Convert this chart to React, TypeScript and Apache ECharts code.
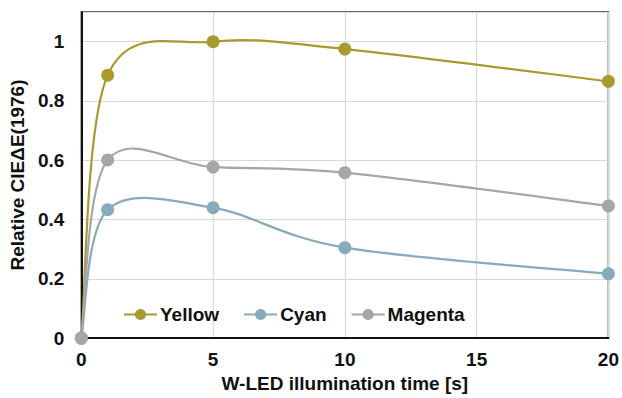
import React, { useEffect, useRef } from "react";
import * as echarts from "echarts";

const times = [0, 1, 5, 10, 20];
const yellow = [0, 0.887, 1.0, 0.975, 0.866];
const cyan = [0, 0.433, 0.44, 0.305, 0.217];
const magenta = [0, 0.601, 0.577, 0.558, 0.446];
const seriesNames = ["Yellow", "Cyan", "Magenta"];
const colors = ["#A99A2E", "#87AABD", "#A6A6A6"];

function curveSeries(vals: number[], color: string, z: number) {
  return {
    type: "custom",
    name: "curve-" + color,
    data: times.map((t, i) => [t, vals[i]]),
    clip: false,
    silent: true,
    z,
    renderItem: (params: any, api: any) => {
      if (params.dataIndex !== 0) return null;
      const p = times.map((t, i) => api.coord([t, vals[i]]));
      const n = p.length;
      let d = `M${p[0][0]},${p[0][1]}`;
      for (let i = 0; i < n - 1; i++) {
        const p0 = p[Math.max(i - 1, 0)];
        const p1 = p[i];
        const p2 = p[i + 1];
        const p3 = p[Math.min(i + 2, n - 1)];
        const c1x = p1[0] + (p2[0] - p0[0]) / 6;
        const c1y = p1[1] + (p2[1] - p0[1]) / 6;
        const c2x = p2[0] - (p3[0] - p1[0]) / 6;
        const c2y = p2[1] - (p3[1] - p1[1]) / 6;
        d += ` C${c1x},${c1y} ${c2x},${c2y} ${p2[0]},${p2[1]}`;
      }
      return {
        type: "path",
        shape: { pathData: d },
        style: { fill: "none", stroke: color, lineWidth: 2.2 },
      };
    },
  };
}

export default function App() {
  const ref = useRef<HTMLDivElement>(null);
  useEffect(() => {
    if (!ref.current) return;
    const chart = echarts.init(ref.current, undefined, { renderer: "svg" });
    const font = "Liberation Sans, Arial, sans-serif";
    const mk = (name: string, vals: number[], color: string, z: number) => ({
      name,
      type: "line",
      data: times.map((t, i) => [t, vals[i]]),
      symbol: "circle",
      symbolSize: 13,
      showSymbol: true,
      clip: false,
      z,
      lineStyle: { color, width: 2, opacity: 0 },
      itemStyle: { color },
    });
    chart.setOption({
      animation: false,
      textStyle: { fontFamily: font },
      grid: {
        left: 80,
        right: 10,
        top: 12,
        bottom: 59,
        show: true,
        borderColor: "#3a3a3a",
        borderWidth: 1.5,
      },
      legend: {
        data: seriesNames,
        left: 118,
        top: 300,
        itemWidth: 33,
        itemHeight: 14,
        itemGap: 24,
        lineStyle: { opacity: 1, width: 2 },
        textStyle: { fontFamily: font, fontWeight: "bold", fontSize: 19, color: "#111", padding: [0, 0, 0, -2] },
      },
      xAxis: {
        type: "value",
        min: 0,
        max: 20,
        interval: 5,
        name: "W-LED illumination time [s]",
        nameLocation: "middle",
        nameGap: 31,
        nameTextStyle: { fontFamily: font, fontWeight: "bold", fontSize: 19, color: "#111", verticalAlign: "top" },
        axisLine: { show: true, lineStyle: { color: "#111", width: 2 } },
        axisTick: { show: false },
        axisLabel: { fontFamily: font, fontWeight: "bold", fontSize: 19, color: "#111", margin: 12 },
        splitLine: { show: true, lineStyle: { color: "#d9d9d9", width: 1.2 } },
      },
      yAxis: {
        type: "value",
        min: 0,
        max: 1.1,
        interval: 0.2,
        name: "Relative CIEΔE(1976)",
        nameLocation: "middle",
        nameGap: 45,
        nameTextStyle: { fontFamily: font, fontWeight: "bold", fontSize: 19, color: "#111" },
        axisLine: { show: true, lineStyle: { color: "#111", width: 2 } },
        axisTick: { show: false },
        axisLabel: {
          fontFamily: font,
          fontWeight: "bold",
          fontSize: 19,
          color: "#111",
          margin: 17,
          formatter: (v: number) => (v > 1.05 ? "" : String(Math.round(v * 10) / 10)),
        },
        splitLine: { show: true, lineStyle: { color: "#d9d9d9", width: 1.2 } },
      },
      series: [
        curveSeries(yellow, colors[0], 2),
        curveSeries(cyan, colors[1], 2),
        curveSeries(magenta, colors[2], 2),
        mk(seriesNames[0], yellow, colors[0], 3),
        mk(seriesNames[1], cyan, colors[1], 4),
        mk(seriesNames[2], magenta, colors[2], 5),
      ],
    });
    return () => chart.dispose();
  }, []);
  return <div ref={ref} style={{ width: 622, height: 398, position: "absolute", left: 0, top: 0, background: "#fff" }} />;
}
